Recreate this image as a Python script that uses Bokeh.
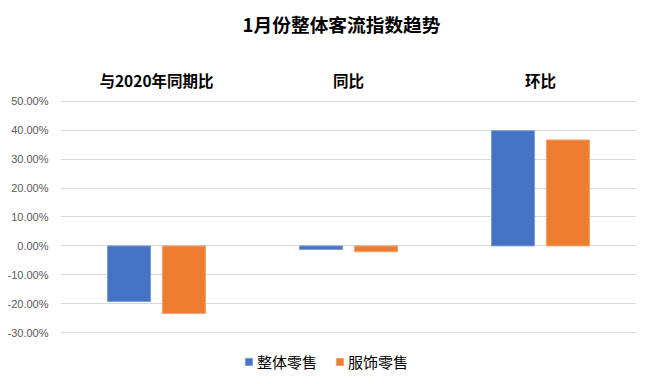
from bokeh.plotting import figure
from bokeh.models import (FactorRange, Range1d, NumeralTickFormatter, FixedTicker,
                          Legend, LegendItem, ColumnDataSource, Label, LabelSet)
from bokeh.transform import dodge
from bokeh.core.properties import value
from bokeh.embed import file_html
from bokeh.resources import INLINE

# ---- data ----
categories = ["与2020年同期比", "同比", "环比"]
series_names = ["整体零售", "服饰零售"]
overall = [-0.192, -0.012, 0.398]
apparel = [-0.233, -0.020, 0.366]
y_ticks = [-0.3, -0.2, -0.1, 0.0, 0.1, 0.2, 0.3, 0.4, 0.5]
title_text = "1月份整体客流指数趋势"

colors = ["#4472C4", "#ED7D31"]
edge_colors = ["#7E9DD8", "#F2A06C"]
CJK = "Noto Sans CJK SC"

source = ColumnDataSource(dict(cat=categories, overall=overall, apparel=apparel))

W, H = 645, 376
# the frame covers the whole canvas height; title, category labels and legend
# are drawn inside it (above the 50% line / below the -30% line)
p = figure(width=W, height=H,
           x_range=FactorRange(*categories),
           y_range=Range1d(-0.451, 0.8478),
           output_backend="svg", toolbar_location=None,
           x_axis_location=None,
           min_border_left=60, min_border_right=9,
           min_border_top=0, min_border_bottom=0)
p.outline_line_color = None
p.background_fill_color = "white"
p.border_fill_color = "white"

r1 = p.vbar(x=dodge("cat", -0.143, range=p.x_range), top="overall", width=0.224,
            source=source, fill_color=colors[0], line_color=edge_colors[0], line_width=1)
r2 = p.vbar(x=dodge("cat", 0.143, range=p.x_range), top="apparel", width=0.224,
            source=source, fill_color=colors[1], line_color=edge_colors[1], line_width=1)

# grid
p.xgrid.grid_line_color = None
p.ygrid.grid_line_color = "#D9D9D9"
p.ygrid.grid_line_width = 1
p.ygrid.ticker = FixedTicker(ticks=y_ticks)

# y axis
p.yaxis.ticker = FixedTicker(ticks=y_ticks)
p.yaxis.formatter = NumeralTickFormatter(format="0.00%")
p.yaxis.axis_line_color = None
p.yaxis.major_tick_line_color = None
p.yaxis.minor_tick_line_color = None
p.yaxis.major_tick_out = 0
p.yaxis.major_tick_in = 0
p.yaxis.major_label_standoff = 12
p.yaxis.major_label_text_font = "Liberation Sans"
p.yaxis.major_label_text_font_size = "11px"
p.yaxis.major_label_text_color = "#595959"

# category labels along the top (screen y measured up from frame bottom)
p.add_layout(LabelSet(x="cat", y=H - 79, y_units="screen", text="cat", source=source,
                      text_align="center", text_baseline="middle",
                      text_font=value(CJK), text_font_size=value("15.5px"),
                      text_font_style="bold", text_color="#000000"))

# chart title
p.add_layout(Label(x=281, y=H - 23, x_units="screen", y_units="screen", text=title_text,
                   text_align="center", text_baseline="middle",
                   text_font=CJK, text_font_size="18.7px", text_font_style="bold",
                   text_color="#000000"))

# legend
legend = Legend(items=[LegendItem(label=series_names[0], renderers=[r1]),
                       LegendItem(label=series_names[1], renderers=[r2])],
                orientation="horizontal", location=(184, 4),
                glyph_width=9, glyph_height=9, label_standoff=4, spacing=18,
                label_height=9,
                padding=0, margin=0, border_line_color=None,
                background_fill_alpha=0,
                label_text_font=CJK, label_text_font_size="15px",
                label_text_color="#000000")
p.add_layout(legend, "center")

open("out.html", "w").write(file_html(p, INLINE))
